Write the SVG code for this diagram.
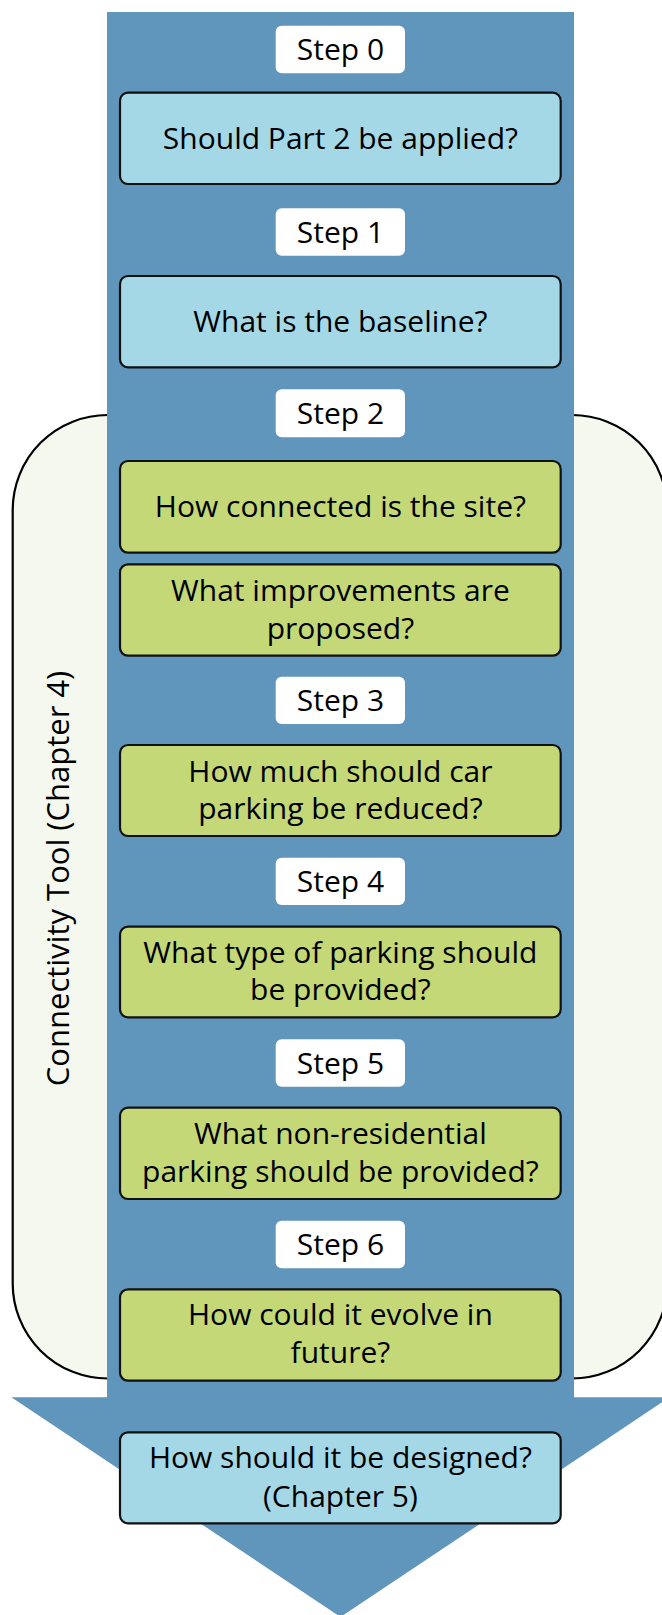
<svg xmlns="http://www.w3.org/2000/svg" width="662" height="1615" viewBox="0 0 662 1615">
<defs>
<style>
.t{font-family:"Open Sans","Noto Sans",sans-serif;font-size:30px;fill:#000;text-anchor:middle}
.lbl{fill:#fff}
.q{stroke:#111;stroke-width:2.2}
.blue{fill:#a5d8e6}
.green{fill:#c4d878}
</style>
</defs>
<rect id="connectivity-zone" x="12.7" y="415" width="654.5" height="963.5" rx="95" ry="95" fill="#f5f8ef" stroke="#000" stroke-width="2.2"/>
<g id="connectors">
<polygon points="107,12 574,12 574,1397.3 669.6,1397.3 340.5,1617 11.4,1397.3 107,1397.3" fill="#6096bb"/>
</g>
<text class="t" transform="translate(68.5,878.5) rotate(-90)" style="font-size:31px">Connectivity Tool (Chapter 4)</text>
<g id="step0"><rect class="lbl" x="275.7" y="25.7" width="129.3" height="47.6" rx="6"/><text class="t" x="340.4" y="60">Step 0</text></g>
<g id="q0"><rect class="q blue" x="120" y="92.7" width="440.7" height="91.3" rx="8"/><text class="t" x="340.4" y="148.5">Should Part 2 be applied?</text></g>
<g id="step1"><rect class="lbl" x="275.7" y="208.3" width="129.3" height="47.4" rx="6"/><text class="t" x="340.4" y="242.5">Step 1</text></g>
<g id="q1"><rect class="q blue" x="120" y="276" width="440.7" height="91.3" rx="8"/><text class="t" x="340.4" y="331.7">What is the baseline?</text></g>
<g id="step2"><rect class="lbl" x="275.7" y="389.3" width="129.3" height="48" rx="6"/><text class="t" x="340.4" y="424">Step 2</text></g>
<g id="q2a"><rect class="q green" x="120" y="461" width="440.7" height="91.7" rx="8"/><text class="t" x="340.4" y="516.5">How connected is the site?</text></g>
<g id="q2b"><rect class="q green" x="120" y="564.3" width="440.7" height="91.4" rx="8"/><text class="t" x="340.4" y="600.5">What improvements are</text><text class="t" x="340.4" y="638.5">proposed?</text></g>
<g id="step3"><rect class="lbl" x="275.7" y="676.7" width="129.3" height="47.3" rx="6"/><text class="t" x="340.4" y="711">Step 3</text></g>
<g id="q3"><rect class="q green" x="120" y="745" width="440.7" height="91" rx="8"/><text class="t" x="340.4" y="781.7">How much should car</text><text class="t" x="340.4" y="818.5">parking be reduced?</text></g>
<g id="step4"><rect class="lbl" x="275.7" y="857.7" width="129.3" height="47.3" rx="6"/><text class="t" x="340.4" y="892">Step 4</text></g>
<g id="q4"><rect class="q green" x="120" y="926.7" width="440.7" height="90.6" rx="8"/><text class="t" x="340.4" y="962.5">What type of parking should</text><text class="t" x="340.4" y="1000">be provided?</text></g>
<g id="step5"><rect class="lbl" x="275.7" y="1039.3" width="129.3" height="47.4" rx="6"/><text class="t" x="340.4" y="1073.5">Step 5</text></g>
<g id="q5"><rect class="q green" x="120" y="1107.7" width="440.7" height="91.3" rx="8"/><text class="t" x="340.4" y="1143.5">What non-residential</text><text class="t" x="340.4" y="1181.5">parking should be provided?</text></g>
<g id="step6"><rect class="lbl" x="275.7" y="1220.7" width="129.3" height="47.6" rx="6"/><text class="t" x="340.4" y="1255">Step 6</text></g>
<g id="q6"><rect class="q green" x="120" y="1289.3" width="440.7" height="91.4" rx="8"/><text class="t" x="340.4" y="1325">How could it evolve in</text><text class="t" x="340.4" y="1363.3">future?</text></g>
<g id="q7"><rect class="q blue" x="120" y="1432.3" width="440.7" height="91" rx="8"/><text class="t" x="340.4" y="1468.3">How should it be designed?</text><text class="t" x="340.4" y="1506.7">(Chapter 5)</text></g>
</svg>
